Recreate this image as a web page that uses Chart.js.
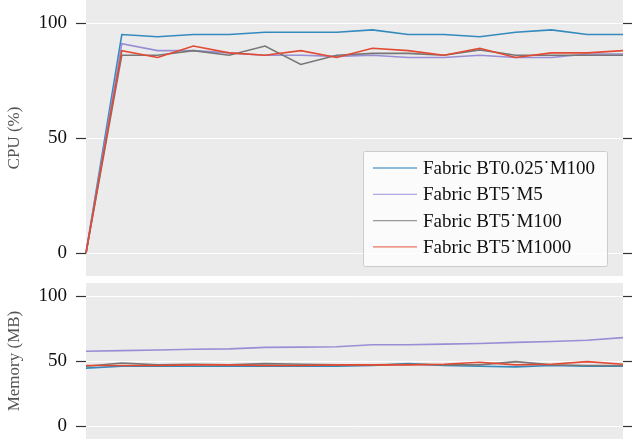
<!DOCTYPE html>
<html><head><meta charset="utf-8">
<script src="https://cdn.jsdelivr.net/npm/chart.js@4.4.0/dist/chart.umd.min.js"></script>
<style>
html,body{margin:0;padding:0;background:#fff;width:632px;height:439px;overflow:hidden}
#c1{position:absolute;left:0;top:0}
#c2{position:absolute;left:0;top:283px}
</style></head><body>
<canvas id="c1" width="632" height="276"></canvas>
<canvas id="c2" width="632" height="156"></canvas>
<script>
const steps = [0,1,2,3,4,5,6,7,8,9,10,11,12,13,14,15];
const seriesNames = ["Fabric BT0.025\u02D9M100", "Fabric BT5\u02D9M5", "Fabric BT5\u02D9M100", "Fabric BT5\u02D9M1000"];
const seriesColors = ["#348ABD", "#988ED5", "#777777", "#E24A33"];
const cpuBlue   = [0, 95, 94, 95, 95, 96, 96, 96, 97, 95, 95, 94, 96, 97, 95, 95];
const cpuPurple = [0, 91, 88, 88, 87, 86, 86, 85.5, 86, 85, 85, 86, 85, 85, 86.5, 86.5];
const cpuGray   = [0, 86, 86, 88, 86, 90, 82, 86, 86.8, 86.8, 86, 88.3, 86, 86, 86, 86];
const cpuRed    = [0, 88, 85, 90, 87, 86, 88, 85, 89, 88, 86, 89, 85, 87, 87, 88];
const memBlue   = [44.5, 46, 46, 46, 46, 46, 46, 46, 46.5, 48, 46.5, 46, 45.5, 46.5, 46, 46];
const memPurple = [57.5, 58, 58.5, 59, 59.3, 60.5, 60.7, 61, 62.5, 62.5, 63, 63.5, 64.3, 65, 66, 68];
const memGray   = [46, 48.5, 47, 47.5, 47, 48, 47.5, 47, 47, 47.5, 47, 47, 49.5, 47, 46.5, 46.5];
const memRed    = [46.5, 46.5, 46.5, 47, 47, 46.5, 46.5, 47, 47, 47, 47.5, 49, 47, 47.5, 49.5, 47.5];
const yTicks = [0, 50, 100];
const yMin = -10, yMax = 110;

const FONT = "'Liberation Serif', 'Times New Roman', serif";

const bgPlugin = {
  id: 'bg',
  beforeDraw(chart) {
    const {ctx, chartArea: a} = chart;
    ctx.save();
    ctx.fillStyle = '#EBEBEB';
    ctx.fillRect(a.left, a.top, a.right - a.left, a.bottom - a.top);
    ctx.restore();
  }
};

const legendPlugin = {
  id: 'customLegend',
  afterDraw(chart) {
    const ctx = chart.ctx;
    const x = 363.5, y = 151.5, w = 244, h = 115;
    ctx.save();
    ctx.fillStyle = 'rgba(255,255,255,0.8)';
    ctx.strokeStyle = '#CCCCCC';
    ctx.lineWidth = 1;
    ctx.beginPath();
    if (ctx.roundRect) ctx.roundRect(x, y, w, h, 2); else ctx.rect(x, y, w, h);
    ctx.fill();
    ctx.stroke();
    ctx.font = '19px ' + FONT;
    ctx.textBaseline = 'middle';
    ctx.textAlign = 'left';
    chart.data.datasets.forEach((ds, i) => {
      const cy = 168 + i * 26.3;
      ctx.strokeStyle = ds.borderColor;
      ctx.globalAlpha = 0.75;
      ctx.lineWidth = 1.3;
      ctx.beginPath();
      ctx.moveTo(373, cy);
      ctx.lineTo(417, cy);
      ctx.stroke();
      ctx.globalAlpha = 1;
      ctx.fillStyle = '#111';
      ctx.fillText(ds.label, 423, cy + 1);
    });
    ctx.restore();
  }
};

function makeDatasets(vals) {
  return vals.map((v, i) => ({
    label: seriesNames[i],
    data: v,
    borderColor: seriesColors[i],
    backgroundColor: seriesColors[i],
    borderWidth: 1.6,
    pointRadius: 0,
    tension: 0,
    fill: false,
    order: 3 - i
  }));
}

function makeOptions(title) {
  const setTicks = s => { s.ticks = yTicks.map(v => ({value: v})); };
  return {
    responsive: false,
    animation: false,
    devicePixelRatio: 1,
    layout: {padding: 0},
    plugins: {legend: {display: false}, tooltip: {enabled: false}},
    scales: {
      x: {type: 'category', labels: steps.map(String), display: false, offset: false},
      y: {
        position: 'left', min: yMin, max: yMax,
        afterBuildTicks: setTicks,
        afterFit: s => { s.width = 86; s.paddingTop = 0; s.paddingBottom = 0; },
        grid: {color: '#FFFFFF', lineWidth: 1, drawTicks: true, tickLength: 10, tickColor: '#333333', tickWidth: 1.2},
        border: {display: false},
        ticks: {color: '#111', font: {family: FONT, size: 19}, padding: 9},
        title: {display: true, text: title, color: '#555', font: {family: FONT, size: 17}, padding: {top: 4, bottom: 4}}
      },
      yr: {
        position: 'right', min: yMin, max: yMax,
        afterBuildTicks: setTicks,
        afterFit: s => { s.width = 9; s.paddingTop = 0; s.paddingBottom = 0; },
        grid: {drawOnChartArea: false, drawTicks: true, tickLength: 9, tickColor: '#333333', tickWidth: 1.2},
        border: {display: false},
        ticks: {display: false}
      }
    }
  };
}

new Chart(document.getElementById('c1'), {
  type: 'line',
  data: {labels: steps.map(String), datasets: makeDatasets([cpuBlue, cpuPurple, cpuGray, cpuRed])},
  options: makeOptions('CPU (%)'),
  plugins: [bgPlugin, legendPlugin]
});

new Chart(document.getElementById('c2'), {
  type: 'line',
  data: {labels: steps.map(String), datasets: makeDatasets([memBlue, memPurple, memGray, memRed])},
  options: makeOptions('Memory (MB)'),
  plugins: [bgPlugin]
});
</script>
</body></html>
